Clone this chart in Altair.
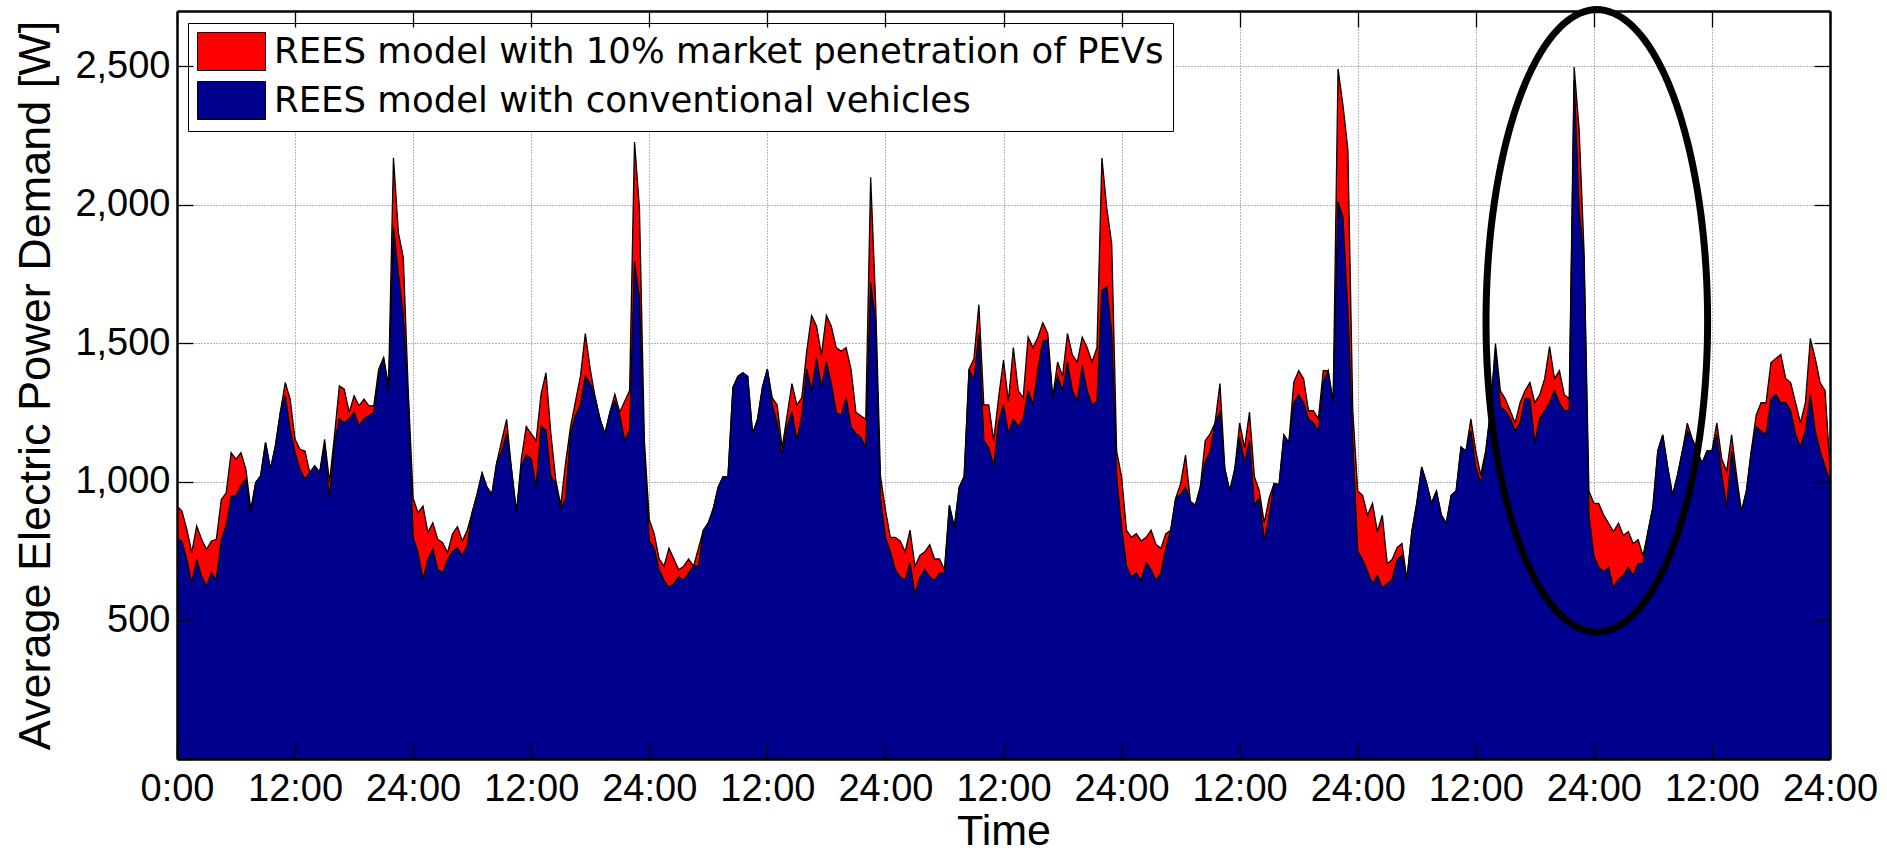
import altair as alt
import pandas as pd

# ---------------- data (30-minute steps) ----------------
conv_d1 = [793, 787, 720, 636, 720, 660, 624, 672, 648, 793, 841, 949, 949, 986, 1010, 889, 998, 1022, 1142, 1046,
           1130, 1251, 1311, 1190, 1106, 1046, 1010, 1034, 1058, 1034, 1130, 940, 1142, 1227, 1214, 1227, 1251, 1203,
           1227, 1239, 1251, 1383, 1449, 1330, 1919, 1750, 1600, 1300]
pev_d1 = [913, 895, 829, 745, 841, 793, 757, 787, 793, 937, 961, 1106, 1082, 1106, 1046, 901, 998, 1022, 1142, 1046,
          1130, 1251, 1359, 1299, 1154, 1118, 1112, 1034, 1058, 1034, 1154, 1000, 1166, 1347, 1335, 1251, 1311, 1275,
          1299, 1275, 1275, 1407, 1449, 1347, 2170, 1900, 1810, 1330]

conv_d2 = [800, 745, 648, 720, 757, 684, 672, 720, 748, 761, 735, 770, 890, 955, 1032, 981, 955, 1071, 1110, 1174,
           1045, 890, 1058, 1097, 1084, 981, 1200, 1187, 1019, 994, 903, 942, 1174, 1239, 1278, 1381, 1355, 1304,
           1226, 1174, 1252, 1291, 1239, 1149, 1187, 1795, 1665, 1110]
pev_d2 = [940, 889, 913, 817, 853, 793, 781, 745, 813, 839, 787, 826, 890, 955, 1032, 981, 955, 1071, 1149, 1226,
          1045, 890, 1084, 1200, 1174, 1149, 1317, 1394, 1174, 1006, 916, 1071, 1200, 1291, 1381, 1536, 1407, 1304,
          1226, 1174, 1252, 1317, 1252, 1291, 1330, 2227, 1988, 1149]

conv_d3 = [787, 761, 683, 645, 619, 632, 657, 645, 671, 696, 696, 826, 852, 903, 981, 1019, 1020, 1340, 1381, 1394,
           1381, 1174, 1226, 1342, 1407, 1278, 1213, 1097, 1200, 1252, 1149, 1239, 1407, 1330, 1446, 1342, 1433, 1355,
           1252, 1239, 1304, 1200, 1174, 1162, 1123, 1720, 1580, 942]
pev_d3 = [864, 813, 722, 696, 761, 722, 683, 696, 722, 696, 761, 826, 852, 903, 981, 1019, 1020, 1340, 1381, 1394,
          1381, 1174, 1226, 1342, 1407, 1304, 1278, 1123, 1239, 1355, 1278, 1304, 1472, 1601, 1562, 1459, 1601, 1562,
          1485, 1472, 1485, 1407, 1252, 1239, 1226, 2100, 1650, 1019]

conv_d4 = [800, 748, 683, 657, 645, 709, 593, 657, 683, 657, 645, 671, 671, 916, 830, 981, 1019, 1407, 1368, 1536,
           1149, 1123, 1058, 1213, 1280, 1174, 1226, 1200, 1226, 1330, 1278, 1407, 1510, 1510, 1304, 1381, 1330, 1433,
           1330, 1291, 1420, 1330, 1278, 1291, 1691, 1704, 1536, 1019]
pev_d4 = [900, 800, 800, 787, 748, 826, 696, 735, 748, 774, 722, 722, 683, 916, 840, 981, 1019, 1407, 1446, 1640,
          1278, 1278, 1149, 1304, 1440, 1291, 1485, 1330, 1304, 1523, 1485, 1523, 1575, 1536, 1304, 1433, 1381, 1536,
          1459, 1433, 1523, 1485, 1433, 1485, 2169, 1988, 1859, 1110]

conv_d5 = [838, 696, 657, 671, 645, 709, 683, 645, 671, 761, 826, 942, 955, 981, 929, 916, 981, 1071, 1110, 1213,
           1252, 1045, 968, 1045, 1162, 1071, 1149, 916, 942, 787, 877, 994, 990, 1170, 1141, 1286, 1315, 1286,
           1228, 1213, 1184, 1359, 1402, 1286, 2012, 1954, 1620, 1141]
pev_d5 = [1019, 826, 800, 813, 787, 800, 826, 774, 761, 813, 826, 942, 994, 1097, 929, 916, 981, 1149, 1174, 1213,
          1355, 1045, 968, 1045, 1213, 1123, 1252, 1019, 968, 852, 942, 994, 990, 1170, 1141, 1359, 1402, 1373,
          1257, 1257, 1228, 1402, 1402, 1286, 2491, 2360, 2200, 1257]

conv_d6 = [749, 720, 676, 633, 662, 618, 633, 647, 720, 734, 647, 821, 923, 1054, 996, 923, 967, 880, 851, 952,
           967, 1126, 1112, 1184, 1054, 996, 1100, 1257, 1480, 1271, 1257, 1228, 1184, 1213, 1300, 1300, 1141, 1228,
           1257, 1286, 1329, 1286, 1257, 1257, 2450, 1983, 1808, 880]
pev_d6 = [967, 952, 880, 923, 821, 880, 705, 720, 763, 778, 647, 821, 923, 1054, 996, 923, 967, 880, 851, 952,
          967, 1126, 1112, 1228, 1112, 1025, 1112, 1257, 1500, 1329, 1300, 1257, 1213, 1286, 1329, 1359, 1286, 1315,
          1373, 1489, 1373, 1402, 1315, 1300, 2498, 2273, 1837, 967]

conv_d7 = [734, 691, 676, 691, 618, 647, 662, 691, 662, 705, 705, 821, 909, 1112, 1170, 1054, 952, 1025, 1112, 1184,
           1155, 1112, 1068, 1112, 1112, 1170, 1025, 909, 1112, 996, 894, 967, 1112, 1199, 1184, 1170, 1300, 1315,
           1286, 1286, 1257, 1170, 1126, 1184, 1315, 1184, 1112, 1054, 1000]
pev_d7 = [923, 923, 880, 851, 821, 851, 807, 821, 778, 792, 734, 821, 909, 1112, 1170, 1054, 952, 1025, 1112, 1212,
          1155, 1112, 1068, 1112, 1112, 1213, 1083, 1039, 1170, 1025, 894, 967, 1112, 1242, 1286, 1286, 1431, 1446,
          1460, 1373, 1359, 1286, 1213, 1286, 1518, 1446, 1359, 1329, 1054]

conv = conv_d1 + conv_d2 + conv_d3 + conv_d4 + conv_d5 + conv_d6 + conv_d7
pev = pev_d1 + pev_d2 + pev_d3 + pev_d4 + pev_d5 + pev_d6 + pev_d7
hours = [i * 0.5 for i in range(len(conv))]

x_tick_values = [0, 12, 24, 36, 48, 60, 72, 84, 96, 108, 120, 132, 144, 156, 168]
x_tick_labels = ["0:00", "12:00", "24:00", "12:00", "24:00", "12:00", "24:00", "12:00",
                 "24:00", "12:00", "24:00", "12:00", "24:00", "12:00", "24:00"]
y_tick_values = [500, 1000, 1500, 2000, 2500]
y_all_ticks = [0, 500, 1000, 1500, 2000, 2500]

PEV_LABEL = "REES model with 10% market penetration of PEVs"
CONV_LABEL = "REES model with conventional vehicles"

# highlighted region (ellipse annotation) in data units
ELL_CX, ELL_CY, ELL_RX, ELL_RY = 144.3, 1581, 11.26, 1124

df = pd.DataFrame({"hour": hours, "conv": conv, "pev": pev})

# ---------------- layout ----------------
W, H = 1653, 748
FONT = "Liberation Sans"
LEGEND_FONT = "DejaVu Sans"
xscale = alt.Scale(domain=[0, 168], nice=False, zero=False)
yscale = alt.Scale(domain=[0, 2700], nice=False, zero=False)

label_expr = "[" + ",".join("'%s'" % s for s in x_tick_labels) + "][round(datum.value / 12)]"

grid_common = dict(grid=True, gridDash=[1, 2], gridColor="#707070", gridWidth=1, gridOpacity=1,
                   labels=False, ticks=False, domain=False, title=None, zindex=0)

color_enc = alt.Color(
    "series:N",
    scale=alt.Scale(domain=[PEV_LABEL, CONV_LABEL], range=["#ff0000", "#00008f"]),
    legend=alt.Legend(
        title=None, orient="none", legendX=11, legendY=12,
        fillColor="white", strokeColor="black", padding=9,
        labelFont=LEGEND_FONT, labelFontSize=35.5, labelColor="black", labelLimit=3000, labelOffset=38,
        symbolType="M-1,-1H2.58V1H-1Z", symbolSize=1444, symbolStrokeColor="black",
        symbolStrokeWidth=1, symbolOpacity=1, rowPadding=6,
    ),
)


def outline(field):
    return alt.Chart(df).mark_line(color="black", strokeWidth=1.3, interpolate="linear").encode(
        x=alt.X("hour:Q", scale=xscale, axis=None),
        y=alt.Y(field + ":Q", scale=yscale, axis=None),
    )


red = alt.Chart(df).transform_calculate(series="'%s'" % PEV_LABEL).mark_area(
    interpolate="linear", opacity=1
).encode(
    x=alt.X("hour:Q", scale=xscale, axis=alt.Axis(orient="bottom", values=x_tick_values, **grid_common)),
    y=alt.Y("pev:Q", scale=yscale, stack=None,
            axis=alt.Axis(orient="left", values=y_tick_values, **grid_common)),
    color=color_enc,
)

blue = alt.Chart(df).transform_calculate(series="'%s'" % CONV_LABEL).mark_area(
    interpolate="linear", opacity=1
).encode(
    x=alt.X("hour:Q", scale=xscale, axis=alt.Axis(
        orient="bottom", values=x_tick_values, labelExpr=label_expr, labelFont=FONT, labelFontSize=38,
        labelColor="black", labelPadding=11, labelFlush=False, labelOverlap=False, ticks=False, grid=False,
        domain=True, domainColor="black", domainWidth=2.5,
        title="Time", titleFont=FONT, titleFontSize=43, titleFontWeight="normal", titleColor="black",
        titlePadding=2, zindex=1)),
    y=alt.Y("conv:Q", scale=yscale, stack=None, axis=alt.Axis(
        orient="left", values=y_tick_values, format=",d", labelFont=FONT, labelFontSize=38,
        labelColor="black", labelPadding=7, ticks=False, grid=False, domain=True, domainColor="black",
        domainWidth=2.5, title="Average Electric Power Demand [W]", titleFont=FONT, titleFontSize=45,
        titleFontWeight="normal", titleColor="black", titlePadding=16, zindex=1)),
    color=color_enc,
)

ellipse = alt.Chart(alt.sequence(0, 362, 2, as_="deg")).transform_calculate(
    ex="%f + %f * cos(datum.deg * PI / 180)" % (ELL_CX, ELL_RX),
    ey="%f + %f * sin(datum.deg * PI / 180)" % (ELL_CY, ELL_RY),
).mark_line(color="black", strokeWidth=7, clip=False).encode(
    x=alt.X("ex:Q", scale=xscale, axis=alt.Axis(
        orient="bottom", offset=-H, values=x_tick_values, labels=False, title=None, grid=False,
        domain=True, domainColor="black", domainWidth=2.5, ticks=True, tickSize=16, tickColor="black",
        tickWidth=1.3, zindex=1)),
    y=alt.Y("ey:Q", scale=yscale, axis=alt.Axis(
        orient="left", offset=-W, values=y_all_ticks, labels=False, title=None, grid=False,
        domain=True, domainColor="black", domainWidth=2.5, ticks=True, tickSize=16, tickColor="black",
        tickWidth=1.3, zindex=1)),
    order="deg:Q",
)

ticks_layer = alt.Chart(df).mark_point(opacity=0, size=1).encode(
    x=alt.X("hour:Q", scale=xscale, axis=alt.Axis(
        orient="top", offset=-H, values=x_tick_values, labels=False, title=None, grid=False,
        domain=False, ticks=True, tickSize=16, tickColor="black", tickWidth=1.3, zindex=1)),
    y=alt.Y("conv:Q", scale=yscale, axis=alt.Axis(
        orient="right", offset=-W, values=y_all_ticks, labels=False, title=None, grid=False,
        domain=False, ticks=True, tickSize=16, tickColor="black", tickWidth=1.3, zindex=1)),
)

chart = alt.layer(red, outline("pev"), blue, outline("conv"), ellipse, ticks_layer).resolve_scale(
    x="independent", y="independent"
).properties(
    width=W, height=H,
    autosize=alt.AutoSizeParams(type="none"),
    padding={"left": 177, "top": 11, "right": 57, "bottom": 93},
).configure_view(stroke=None).configure(background="white")

chart.save("out.html", embed_options={"renderer": "svg", "actions": False})
